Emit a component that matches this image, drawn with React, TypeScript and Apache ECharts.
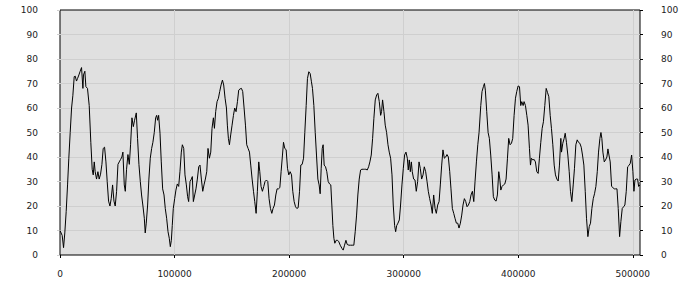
import React, { useEffect, useRef } from "react";
import * as echarts from "echarts";

// distance along the track, in thousands
const distanceK: number[] = [
  0, 1.9, 3.1, 4.2, 5.4, 6.6, 7.7, 8.9, 10.1, 11.2, 12.4, 13.3, 14.4, 15.3, 16.5, 17.6, 18.8, 20.0, 20.5, 21.7, 22.6, 24.0, 25.5, 26.9, 28.1, 29.0, 29.9, 30.7, 31.9, 33.1, 34.2, 35.4, 36.6, 37.7, 38.9, 40.1, 41.2, 42.4, 43.6, 44.7, 45.9, 47.1, 48.2, 49.4, 50.6, 51.7, 52.9, 54.0, 54.9, 56.1, 57.0, 58.1, 59.3, 60.5, 61.6, 62.8, 64.0, 65.1, 66.6, 67.7, 68.9, 70.1, 71.2, 72.4,
  73.6, 74.4, 75.3, 76.5, 77.6, 78.8, 80.0, 81.1, 82.3, 83.5, 84.4, 85.2, 86.1, 87.3, 88.4, 89.6, 90.8, 91.9, 93.1, 94.3, 95.4, 96.3, 97.2, 98.0, 98.9, 100.1, 101.2, 102.4, 103.6, 104.7, 105.9, 106.8, 108.0, 109.1, 110.3, 111.4, 112.3, 113.5, 114.7, 115.5, 116.4, 117.6, 118.7, 119.9, 121.1, 122.2, 123.4, 124.6, 125.7, 126.9, 128.1, 129.2, 130.4, 131.6, 132.7, 133.9, 134.8, 135.9, 137.1, 138.3, 139.4, 140.6, 141.8, 142.9, 144.1, 145.3, 146.1,
  147.0, 147.9, 149.0, 150.2, 151.4, 152.5, 153.7, 154.9, 156.0, 157.2, 158.4, 159.5, 160.7, 161.9, 163.0, 164.2, 165.4, 166.5, 167.7, 168.9, 170.0, 171.2, 172.3, 173.5, 174.4, 175.5, 176.7, 177.9, 179.0, 180.2, 181.4, 182.5, 183.7, 184.9, 186.0, 187.2, 188.4, 189.5, 190.7, 191.9, 193.0, 194.2, 195.1, 196.2, 197.4, 198.6, 199.7, 200.9, 202.1, 203.2, 204.4, 205.6, 206.7, 207.9, 209.1, 210.2, 211.4, 212.6, 213.7, 214.9, 216.0, 217.2, 218.4, 219.5,
  220.4, 221.6, 222.8, 223.9, 225.1, 226.2, 227.1, 228.0, 228.9, 229.7, 230.6, 231.8, 232.9, 234.1, 235.3, 236.4, 237.3, 238.2, 239.1, 239.9, 241.1, 242.3, 243.4, 244.6, 246.1, 247.2, 248.4, 249.6, 250.7, 252.2, 253.6, 255.1, 256.5, 257.7, 258.9, 260.0, 261.2, 262.4, 263.5, 264.7, 265.9, 267.0, 268.2, 269.4, 270.5, 271.7, 272.9, 274.0, 275.2, 276.4, 277.5, 278.7, 279.9, 280.7, 281.6, 282.8, 283.9, 285.1, 286.3, 287.4, 288.6, 289.8, 290.9, 292.1, 293.0,
  293.9, 295.0, 296.2, 297.3, 298.5, 299.7, 300.8, 302.0, 303.2, 304.0, 304.9, 305.8, 306.7, 307.5, 308.7, 309.9, 311.0, 312.2, 313.4, 314.5, 315.7, 316.9, 318.0, 319.2, 320.4, 321.5, 322.7, 323.9, 325.0, 326.2, 327.4, 328.5, 329.7, 330.9, 332.0, 333.2, 334.3, 335.5, 336.7, 337.8, 339.0, 340.2, 341.3, 342.5, 343.7, 344.8, 346.0, 347.2, 348.3, 349.5, 350.7, 351.8, 353.0, 354.2, 355.3, 356.5, 357.7, 358.8, 360.0, 361.2, 362.3, 363.5, 364.7, 365.8,
  367.3, 368.4, 369.6, 370.5, 371.3, 372.5, 373.7, 374.8, 376.0, 377.2, 378.3, 379.5, 380.7, 381.8, 383.0, 383.9, 384.8, 385.9, 387.1, 388.3, 389.4, 390.6, 391.7, 392.9, 394.1, 395.2, 396.4, 397.6, 398.7, 399.9, 401.1, 402.2, 403.1, 404.3, 405.1, 406.3, 407.5, 408.6, 409.8, 410.7, 411.5, 412.7, 413.9, 415.0, 416.2, 417.4, 418.5, 419.7, 420.9, 422.0, 423.2, 424.4, 425.5, 426.7, 427.9, 429.0, 430.2, 431.4, 432.5, 433.7, 434.9, 436.0, 437.2,
  437.8, 438.9, 440.1, 441.0, 442.1, 443.3, 444.5, 445.6, 446.8, 448.0, 449.1, 450.3, 451.5, 452.6, 453.8, 455.0, 456.1, 457.3, 458.5, 459.6, 460.8, 462.0, 463.1, 464.3, 465.5, 466.6, 467.8, 469.0, 470.1, 471.3, 472.2, 473.0, 473.9, 475.1, 476.2, 477.4, 478.3, 479.2, 480.3, 481.5, 482.7, 483.8, 485.0, 486.2, 487.3, 488.5, 489.6, 490.8, 492.0, 493.1, 494.3, 495.5, 496.6, 497.8, 499.0, 500.1, 501.0, 501.9, 503.0, 504.2, 505.1, 506.3,
];

const level: number[] = [
  10, 8, 3, 9, 17.7, 28.6, 39.5, 50, 60, 65, 72.8, 73, 71, 72, 73.5, 75, 76.5, 68, 73.5, 75, 68.7, 68, 61, 46, 35, 32.7, 38, 34, 31, 34, 31, 33, 37, 43.5, 44, 38, 30, 22, 20, 23, 28.6, 22, 20, 26, 37, 38, 39, 40, 42, 28.6, 26, 35, 41, 37, 45, 56, 52.4, 55, 58, 47.6, 37, 30, 24.5, 20,
  15, 9, 13, 20.4, 31, 39.5, 43.5, 46, 50, 56, 57, 55, 57, 49.7, 38, 27, 24.5, 19, 15, 9.5, 6.8, 3.4, 6, 12, 19, 23, 26.5, 29, 28, 34, 42, 45, 43.5, 32.7, 28.6, 23.8, 21.8, 30, 31, 32, 21.8, 24.5, 27, 31, 36, 36.7, 31, 26, 28.6, 31, 34, 43.5, 39.5, 42, 51.7, 56, 51.7, 58.5, 62.6, 64, 66.7, 69.4, 71.4, 69.4, 64, 60, 53,
  47.6, 45, 49, 53, 57, 60, 58.5, 62.6, 67.3, 67.8, 68, 66.7, 60, 53, 45, 43.5, 42, 36.7, 31, 26, 21.8, 17, 26, 38, 34, 28, 26, 28, 30, 30.6, 30, 23, 19, 17, 19, 20.4, 24.5, 27, 27, 27.5, 34, 40.8, 46, 43.5, 43, 35.4, 32.7, 34, 32.7, 26, 21.8, 19.7, 19, 19.3, 26, 36.7, 37, 39.5, 50, 61, 72, 74.8, 74, 70.7,
  68, 61, 50, 40.8, 31, 28.6, 25, 35.4, 43.5, 45, 36.7, 36, 34, 30, 29, 28.6, 20.4, 12, 6.8, 4.8, 6, 6, 5.4, 4, 2.7, 2, 4, 6, 4.3, 4, 4, 4, 4, 9.5, 16.3, 24.5, 31, 34.7, 35, 35, 35, 35, 34.7, 36, 38, 40.8, 47.6, 55.8, 63.3, 65.3, 66, 62.6, 57, 58.5, 63.3, 58.5, 53, 50, 45, 42, 39.5, 32.7, 20.4, 12, 9.5,
  12, 13, 14.3, 20.4, 28.6, 35.4, 40.8, 42, 39.5, 34.7, 38.8, 34, 38, 34, 31, 30.6, 26, 30, 38, 35.4, 31, 32.7, 36, 34, 30, 26, 23, 20.4, 17, 24.5, 19, 17, 20.4, 21.8, 28.6, 36.7, 42.9, 39.5, 40, 41, 40, 34, 27, 19, 17, 15, 13, 13, 11, 13, 16.3, 20.4, 23, 21.8, 19.7, 20.4, 21.8, 24.5, 26, 21.8, 30, 38, 45, 50,
  61, 66.7, 68.7, 70, 67.3, 58.5, 50, 47.6, 40.8, 32.7, 23.8, 22.4, 22, 24.5, 34, 31, 26.5, 28, 28.6, 29, 31, 39.5, 47.6, 45, 45.6, 47.6, 57, 64, 66.7, 69, 68.7, 61, 62.6, 61, 62.6, 61, 57, 53, 43.5, 36.7, 39.5, 38.8, 39, 38, 34, 33.3, 39.5, 46, 51.7, 54.4, 61, 68, 66.4, 64.6, 57, 51.7, 45, 36.7, 32.7, 31, 30.2, 36.7, 47.6,
  42, 45.6, 47.6, 49.7, 46, 40.8, 34, 26, 21.8, 28.6, 35.4, 45, 47, 46, 45.6, 44, 40.8, 36.7, 26, 15, 7.5, 11.6, 13, 19, 23, 25, 28, 34, 42, 47.6, 50, 47.6, 42, 38, 38.8, 40, 43.3, 40.8, 38, 28, 27.5, 27, 27, 27, 19, 7.5, 13.6, 19, 19.7, 20.4, 26, 36, 36.5, 37.4, 40.8, 34, 26, 30.6, 31, 31, 28, 28.6,
];

const X_MIN = 0;
const X_MAX = 506300;
const X_STEP = 100000;
const Y_MIN = 0;
const Y_MAX = 100;
const Y_STEP = 10;

export default function App() {
  const ref = useRef<HTMLDivElement>(null);

  useEffect(() => {
    if (!ref.current) return;
    const chart = echarts.init(ref.current, undefined, { renderer: "svg" });
    const n = Math.min(distanceK.length, level.length);
    const data: [number, number][] = [];
    for (let i = 0; i < n; i++) data.push([distanceK[i] * 1000, level[i]]);

    const labelStyle = {
      color: "#222",
      fontFamily: "DejaVu Sans",
      fontSize: 9,
    };

    chart.setOption({
      animation: false,
      backgroundColor: "#ffffff",
      grid: {
        left: 60,
        right: 60,
        top: 10,
        bottom: 45,
        show: true,
        backgroundColor: "#e0e0e0",
        borderColor: "#000",
        borderWidth: 1,
      },
      xAxis: {
        type: "value",
        min: X_MIN,
        max: X_MAX,
        interval: X_STEP,
        axisLine: { show: false },
        axisTick: { show: true, length: 3, lineStyle: { color: "#000" } },
        axisLabel: {
          ...labelStyle,
          margin: 14,
          showMaxLabel: false,
          formatter: (v: number) => String(v),
        },
        splitLine: {
          show: true,
          showMinLine: false,
          showMaxLine: false,
          lineStyle: { color: "#cfcfcf", width: 1 },
        },
      },
      yAxis: [
        {
          type: "value",
          position: "left",
          min: Y_MIN,
          max: Y_MAX,
          interval: Y_STEP,
          axisLine: { show: false },
          axisTick: { show: true, length: 3, lineStyle: { color: "#cfcfcf" } },
          axisLabel: { ...labelStyle, margin: 22 },
          splitLine: {
            show: true,
            showMinLine: false,
            showMaxLine: false,
            lineStyle: { color: "#cfcfcf", width: 1 },
          },
        },
        {
          type: "value",
          position: "right",
          min: Y_MIN,
          max: Y_MAX,
          interval: Y_STEP,
          axisLine: { show: false },
          axisTick: { show: true, length: 3, lineStyle: { color: "#000" } },
          axisLabel: { ...labelStyle, margin: 21 },
          splitLine: { show: false },
        },
      ],
      series: [
        {
          type: "line",
          data,
          yAxisIndex: 0,
          showSymbol: false,
          symbol: "none",
          lineStyle: { color: "#000", width: 1 },
          itemStyle: { color: "#000" },
        },
      ],
    });
    return () => chart.dispose();
  }, []);

  return (
    <div
      ref={ref}
      style={{ position: "absolute", left: 0, top: 0, width: 700, height: 300 }}
    />
  );
}
